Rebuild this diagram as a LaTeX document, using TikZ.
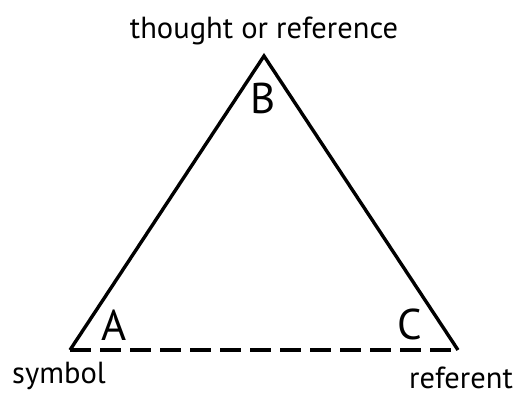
\documentclass[tikz,border=0pt]{standalone}
\usepackage{fontspec}
\setmainfont{PT Sans}
\usepackage{tikz}
\usetikzlibrary{positioning}

\begin{document}
\begin{tikzpicture}[x=1pt,y=1pt,
  side/.style={line width=3.4pt,line join=miter,black},
  base/.style={side,dash pattern=on 21pt off 9pt},
  vertex/.style={font=\fontsize{43}{48}\selectfont,inner sep=0pt},
  caption/.style={font=\fontsize{30.5}{34}\selectfont,inner sep=0pt,anchor=base}]
\useasboundingbox (0,0) rectangle (515,396);
\coordinate (top) at (264,340);
\coordinate (left) at (70,46);
\coordinate (right) at (458,46);
\draw[side] (left) -- (top) -- (right);
\draw[base] (left) -- (right);
\node[vertex] (B) at (263,298) {B};
\node[vertex] (A) at (114,71) {A};
\node[vertex] (C) at (410,72) {C};
\node[caption] (thought) at (264,357) {thought or reference};
\node[caption] (symbol) at (59,12) {symbol};
\node[caption] (referent) at (461,7) {referent};
\end{tikzpicture}
\end{document}
